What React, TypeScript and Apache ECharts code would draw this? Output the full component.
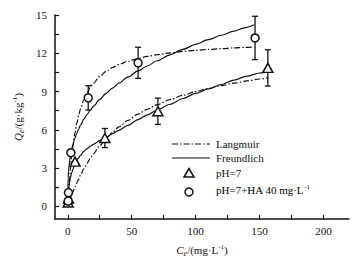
import React, { useEffect, useRef } from "react";
import * as echarts from "echarts";

// Measured data points
const PH7_C = [0.3, 0.6, 5.7, 29, 70.5, 156.5];
const PH7_Q = [0.3, 0.6, 3.5, 5.35, 7.45, 10.85];
const PH7_ERR = [0, 0, 0, 0.75, 1.03, 1.42];

const HA_C = [0.3, 0.5, 2.4, 16, 55, 146.5];
const HA_Q = [0.4, 1.07, 4.2, 8.5, 11.25, 13.2];
const HA_ERR = [0, 0, 0, 0.95, 1.22, 1.7];

// Fitted curves
const CURVE_HA_C = [0.05, 0.3, 0.6, 1, 1.5, 2, 3, 4, 5.5, 7, 8.5, 10, 12.5, 15, 17.5, 20, 25, 30, 35, 40, 47, 55, 62, 70, 80, 90, 100, 110, 120, 130, 138, 146];
const LANG_HA_Q = [0.09, 0.53, 1.02, 1.61, 2.27, 2.87, 3.87, 4.7, 5.7, 6.48, 7.12, 7.64, 8.34, 8.87, 9.3, 9.65, 10.19, 10.58, 10.88, 11.12, 11.37, 11.59, 11.75, 11.89, 12.03, 12.14, 12.23, 12.3, 12.36, 12.42, 12.46, 12.49];
const FREU_HA_Q = [1.3, 2.22, 2.74, 3.19, 3.6, 3.93, 4.43, 4.84, 5.32, 5.72, 6.06, 6.36, 6.81, 7.19, 7.53, 7.84, 8.38, 8.85, 9.27, 9.65, 10.13, 10.61, 11.0, 11.41, 11.88, 12.3, 12.7, 13.07, 13.41, 13.74, 13.99, 14.23];

const CURVE_PH7_C = [0.3, 0.6, 1, 1.5, 2, 3, 4, 5, 6, 8, 10, 12.5, 15, 17.5, 20, 25, 30, 35, 40, 47, 55, 62, 70, 80, 90, 100, 110, 120, 130, 140, 150, 157];
const LANG_PH7_Q = [0.09, 0.18, 0.3, 0.44, 0.58, 0.85, 1.1, 1.35, 1.59, 2.03, 2.44, 2.92, 3.35, 3.74, 4.1, 4.75, 5.31, 5.79, 6.22, 6.73, 7.23, 7.6, 7.97, 8.37, 8.7, 8.99, 9.24, 9.46, 9.65, 9.83, 9.98, 10.08];
const FREU_PH7_Q = [0.9, 1.2, 1.6, 1.9, 2.2, 2.6, 2.9, 3.15, 3.4, 3.75, 4.0, 4.3, 4.5, 4.7, 4.85, 5.15, 5.4, 5.7, 5.95, 6.35, 6.8, 7.15, 7.55, 8.0, 8.45, 8.85, 9.2, 9.55, 9.9, 10.2, 10.45, 10.6];

const X_LABELS = [0, 50, 100, 150, 200];
const X_TICKS = [0, 25, 50, 75, 100, 125, 150, 175, 200];
const Y_LABELS = [0, 3, 6, 9, 12, 15];
const Y_TICKS = [0, 1.5, 3, 4.5, 6, 7.5, 9, 10.5, 12, 13.5, 15];

const LEGEND_NAMES = ["Langmuir", "Freundlich", "pH=7", "pH=7+HA 40 mg·L"];

const FONT = "Liberation Serif";
const INK = "#111";
const DASHDOT = [6, 2, 1.5, 2];

const zip = (xs: number[], ys: number[]) => xs.map((x, i) => [x, ys[i]]);

const richBase = {
  n: { fontFamily: FONT, fontSize: 11, color: INK, lineHeight: 14 },
  i: { fontFamily: FONT, fontSize: 11, color: INK, fontStyle: "italic", lineHeight: 14 },
  sub: { fontFamily: FONT, fontSize: 8, color: INK, fontStyle: "italic", lineHeight: 8, verticalAlign: "bottom" },
  sup: { fontFamily: FONT, fontSize: 7, color: INK, lineHeight: 7, verticalAlign: "top" },
};

function errorBars(name: string, cs: number[], qs: number[], es: number[]) {
  return {
    type: "custom",
    name,
    z: 2,
    silent: true,
    data: cs.map((c, i) => [c, qs[i], es[i]]),
    renderItem: (params: any, api: any) => {
      const x = api.value(0);
      const y = api.value(1);
      const e = api.value(2);
      if (!e) return { type: "group", children: [] };
      const top = api.coord([x, y + e]);
      const bot = api.coord([x, y - e]);
      const w = 3;
      const st = { stroke: INK, lineWidth: 1.3 };
      return {
        type: "group",
        children: [
          { type: "line", shape: { x1: top[0], y1: top[1], x2: bot[0], y2: bot[1] }, style: st },
          { type: "line", shape: { x1: top[0] - w, y1: top[1], x2: top[0] + w, y2: top[1] }, style: st },
          { type: "line", shape: { x1: bot[0] - w, y1: bot[1], x2: bot[0] + w, y2: bot[1] }, style: st },
        ],
      };
    },
  };
}

function curve(name: string, xs: number[], ys: number[], dash: any) {
  return {
    type: "line",
    name,
    data: zip(xs, ys),
    symbol: "none",
    smooth: 0.3,
    smoothMonotone: "x",
    z: 1,
    lineStyle: { color: INK, width: 1.2, type: dash },
  };
}

export default function App() {
  const ref = useRef<HTMLDivElement>(null);
  useEffect(() => {
    if (!ref.current) return;
    const chart = echarts.init(ref.current, null, { renderer: "svg" });
    chart.setOption({
      animation: false,
      backgroundColor: "#fff",
      grid: { left: 55, right: 15, top: 15, bottom: 42 },
      xAxis: {
        type: "value",
        min: -10,
        max: 220,
        name: "{i|C}{sub|e}{n|/(mg·L}{sup|-1}{n|)}",
        nameLocation: "middle",
        nameGap: 24,
        nameTextStyle: { rich: richBase },
        axisLine: { onZero: false, lineStyle: { color: INK, width: 1.5 } },
        axisTick: { inside: true, length: 4, customValues: X_TICKS, lineStyle: { color: INK, width: 1.2 } },
        axisLabel: { customValues: X_LABELS, fontFamily: FONT, fontSize: 11, color: INK, margin: 6 },
        splitLine: { show: false },
      },
      yAxis: {
        type: "value",
        min: -1,
        max: 15,
        name: "{i|Q}{sub|e}{n|/(g·kg}{sup|-1}{n|)}",
        nameLocation: "middle",
        nameRotate: 90,
        nameGap: 27,
        nameTextStyle: { rich: richBase },
        axisLine: { onZero: false, lineStyle: { color: INK, width: 1.5 } },
        axisTick: { inside: true, length: 4, customValues: Y_TICKS, lineStyle: { color: INK, width: 1.2 } },
        axisLabel: { customValues: Y_LABELS, fontFamily: FONT, fontSize: 11, color: INK, margin: 8 },
        splitLine: { show: false },
      },
      series: [
        curve("Langmuir HA", CURVE_HA_C, LANG_HA_Q, DASHDOT),
        curve("Freundlich HA", CURVE_HA_C, FREU_HA_Q, "solid"),
        curve("Langmuir pH7", CURVE_PH7_C, LANG_PH7_Q, DASHDOT),
        curve("Freundlich pH7", CURVE_PH7_C, FREU_PH7_Q, "solid"),
        errorBars("err pH7", PH7_C, PH7_Q, PH7_ERR),
        errorBars("err HA", HA_C, HA_Q, HA_ERR),
        {
          type: "scatter",
          name: "pH=7",
          data: zip(PH7_C, PH7_Q),
          symbol: "triangle",
          symbolSize: [10, 9],
          z: 5,
          itemStyle: { color: "#fff", borderColor: INK, borderWidth: 1.5, opacity: 1 },
        },
        {
          type: "scatter",
          name: "pH=7+HA",
          data: zip(HA_C, HA_Q),
          symbol: "circle",
          symbolSize: 8,
          z: 5,
          itemStyle: { color: "#fff", borderColor: INK, borderWidth: 1.5, opacity: 1 },
        },
      ],
      graphic: [
        { type: "line", shape: { x1: 172, y1: 144, x2: 210, y2: 144 }, style: { stroke: INK, lineWidth: 1.2, lineDash: DASHDOT } },
        { type: "text", x: 216, y: 144, style: { text: LEGEND_NAMES[0], font: `11px "${FONT}"`, fill: INK, verticalAlign: "middle" } },
        { type: "line", shape: { x1: 172, y1: 158, x2: 210, y2: 158 }, style: { stroke: INK, lineWidth: 1.2 } },
        { type: "text", x: 216, y: 158, style: { text: LEGEND_NAMES[1], font: `11px "${FONT}"`, fill: INK, verticalAlign: "middle" } },
        { type: "polygon", shape: { points: [[189, 168.5], [184, 177], [194, 177]] }, style: { fill: "#fff", stroke: INK, lineWidth: 1.5 } },
        { type: "text", x: 216, y: 173, style: { text: LEGEND_NAMES[2], font: `11px "${FONT}"`, fill: INK, verticalAlign: "middle" } },
        { type: "circle", shape: { cx: 189, cy: 192, r: 4 }, style: { fill: "#fff", stroke: INK, lineWidth: 1.5 } },
        {
          type: "text",
          x: 216,
          y: 190,
          style: {
            text: "{n|" + LEGEND_NAMES[3] + "}{sup|-1}",
            rich: richBase,
            verticalAlign: "middle",
          },
        },
      ],
    });
    return () => chart.dispose();
  }, []);
  return <div ref={ref} style={{ width: 364, height: 262, position: "absolute", left: 0, top: 0 }} />;
}
